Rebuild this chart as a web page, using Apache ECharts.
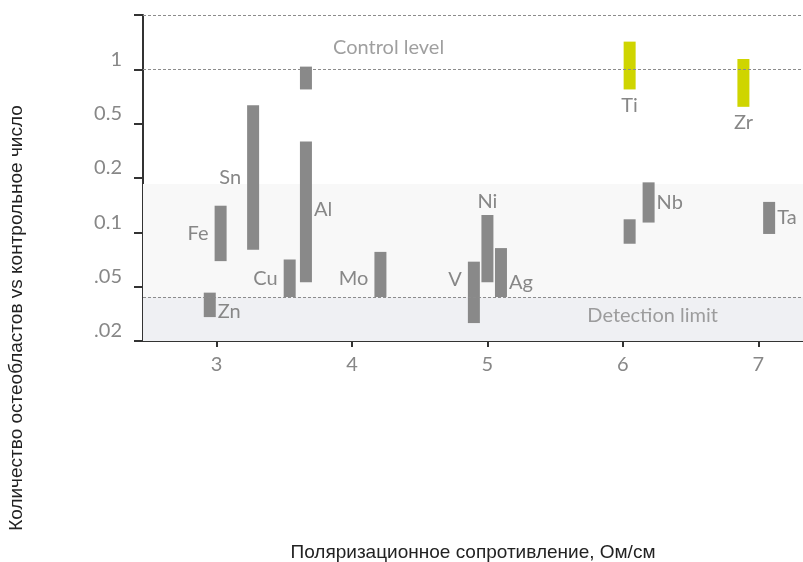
<!DOCTYPE html>
<html>
<head>
<meta charset="utf-8">
<script src="https://cdn.jsdelivr.net/npm/echarts@6/dist/echarts.min.js"></script>
<style>
  html, body { margin: 0; padding: 0; background: #fff; }
  #main { width: 803px; height: 562px; }
</style>
</head>
<body>
<div id="main"></div>
<script>
// 元素名称（空字符串 = 没有标签的柱子）
var elementNames = ['Zn', 'Fe', 'Sn', 'Cu', '', 'Al', 'Mo', 'V', 'Ni', 'Ag', 'Ti', '', 'Nb', 'Zr', 'Ta'];
// 横坐标：极化电阻
var resistance = [2.95, 3.03, 3.27, 3.54, 3.66, 3.66, 4.21, 4.90, 5.00, 5.10, 6.05, 6.05, 6.19, 6.89, 7.08];
// 纵坐标位置（按刻度序号计：0=.02, 1=.05, 2=0.1, 3=0.2, 4=0.5, 5=1）
var lowValues  = [0.44, 1.47, 1.68, 0.81, 4.63, 1.08, 0.81, 0.33, 1.08, 0.81, 4.63, 1.79, 2.18, 4.31, 1.97];
var highValues = [0.89, 2.49, 4.34, 1.50, 5.05, 3.67, 1.64, 1.46, 2.32, 1.71, 5.51, 2.24, 2.92, 5.19, 2.56];
// 超过控制水平的元素
var aboveControl = [0, 0, 0, 0, 0, 0, 0, 0, 0, 0, 1, 0, 0, 1, 0];

// 标签放在柱子的哪一侧，以及上下微调（像素）
var labelSide = ['r', 'l', 'l', 'l', '', 'r', 'l', 'l', 't', 'r', 'b', '', 'r', 'b', 'r'];
var labelNudge = [7, 0, 0, 0, 0, -2, 4, -13, 0, 10, 0, 0, 0, 0, 0];

// 纵轴刻度文字
var yTickLabels = ['.02', '.05', '0.1', '0.2', '0.5', '1', ''];
var xTicks = [3, 4, 5, 6, 7];

// 参考线
var controlLevel = 5;
var detectionLimit = 0.81;
var shadeTop = 2.89;

var textGray = '#878787';
var labelFont = 'Lato';

var barData = [];
for (let i = 0; i < resistance.length; i++) {
    barData.push([resistance[i], lowValues[i], highValues[i], i]);
}

let myChart = echarts.init(document.getElementById('main'));

function renderBar(params, api) {
    let i = api.value(3);
    let top = api.coord([api.value(0), api.value(2)]);
    let bottom = api.coord([api.value(0), api.value(1)]);
    let w = 12;
    let children = [{
        type: 'rect',
        shape: { x: top[0] - w / 2, y: top[1], width: w, height: bottom[1] - top[1] },
        style: { fill: aboveControl[i] ? '#cfd500' : '#898989' }
    }];
    let side = labelSide[i];
    if (elementNames[i]) {
        let tx = top[0], ty = (top[1] + bottom[1]) / 2 + labelNudge[i], align = 'center', va = 'middle';
        if (side === 'l') { tx = top[0] - w / 2 - 6; align = 'right'; }
        if (side === 'r') { tx = top[0] + w / 2 + 2; align = 'left'; }
        if (side === 't') { ty = top[1] - 3; va = 'bottom'; }
        if (side === 'b') { ty = bottom[1] + 6; va = 'top'; }
        children.push({
            type: 'text',
            style: {
                text: elementNames[i], x: tx, y: ty, align: align, verticalAlign: va,
                fill: textGray, fontSize: 20, fontFamily: labelFont
            }
        });
    }
    return { type: 'group', children: children };
}

let option = {
    backgroundColor: '#fff',
    animation: false,
    grid: { left: 143, right: 0, top: 15, bottom: 221, outerBoundsMode: 'none', containLabel: false },
    xAxis: {
        type: 'value',
        min: 2.457,
        max: 7.33,
        name: 'Поляризационное сопротивление, Ом/см',
        nameLocation: 'middle',
        nameGap: 202,
        nameTextStyle: { color: '#222', fontSize: 19, fontFamily: 'Liberation Sans' },
        axisLine: { lineStyle: { color: '#333', width: 2 } },
        axisTick: { customValues: xTicks, length: 6, lineStyle: { color: '#333', width: 2 } },
        axisLabel: { customValues: xTicks, color: textGray, fontSize: 20, fontFamily: labelFont, margin: 14 },
        splitLine: { show: false }
    },
    yAxis: {
        type: 'value',
        min: 0,
        max: 6,
        interval: 1,
        axisLine: { show: true, lineStyle: { color: '#333', width: 2 } },
        axisTick: { show: true, length: 9, lineStyle: { color: '#333', width: 2 } },
        axisLabel: {
            color: textGray, fontSize: 20, fontFamily: labelFont, margin: 21,
            verticalAlign: 'bottom',
            formatter: function (v) { return yTickLabels[Math.round(v)]; }
        },
        splitLine: { show: false }
    },
    graphic: [{
        type: 'text',
        x: 17, y: 318,
        rotation: Math.PI / 2,
        style: {
            text: 'Количество остеобластов vs контрольное число',
            align: 'center', verticalAlign: 'middle',
            fill: '#222', fontSize: 19, fontFamily: 'Liberation Sans'
        }
    }],
    series: [{
        type: 'custom',
        renderItem: renderBar,
        encode: { x: 0, y: [1, 2] },
        data: barData,
        z: 3,
        markArea: {
            silent: true,
            data: [
                [{ yAxis: detectionLimit, itemStyle: { color: '#f8f8f8' } }, { yAxis: shadeTop }],
                [{ yAxis: 0, itemStyle: { color: '#eff0f3' } }, { yAxis: detectionLimit }]
            ]
        },
        markLine: {
            silent: true,
            symbol: 'none',
            label: { show: false },
            lineStyle: { color: '#8c8c8c', type: [3, 2], width: 1 },
            data: [{ yAxis: 6 }, { yAxis: controlLevel }, { yAxis: detectionLimit }]
        }
    }, {
        // 参考线的文字说明
        type: 'scatter',
        symbolSize: 0,
        silent: true,
        label: {
            show: true, position: 'inside', color: textGray, fontSize: 20, fontFamily: labelFont,
            formatter: function (p) { return p.data[2]; }
        },
        data: [[4.27, 5.40, 'Control level'], [6.22, 0.47, 'Detection limit']]
    }]
};

myChart.setOption(option);
</script>
</body>
</html>
